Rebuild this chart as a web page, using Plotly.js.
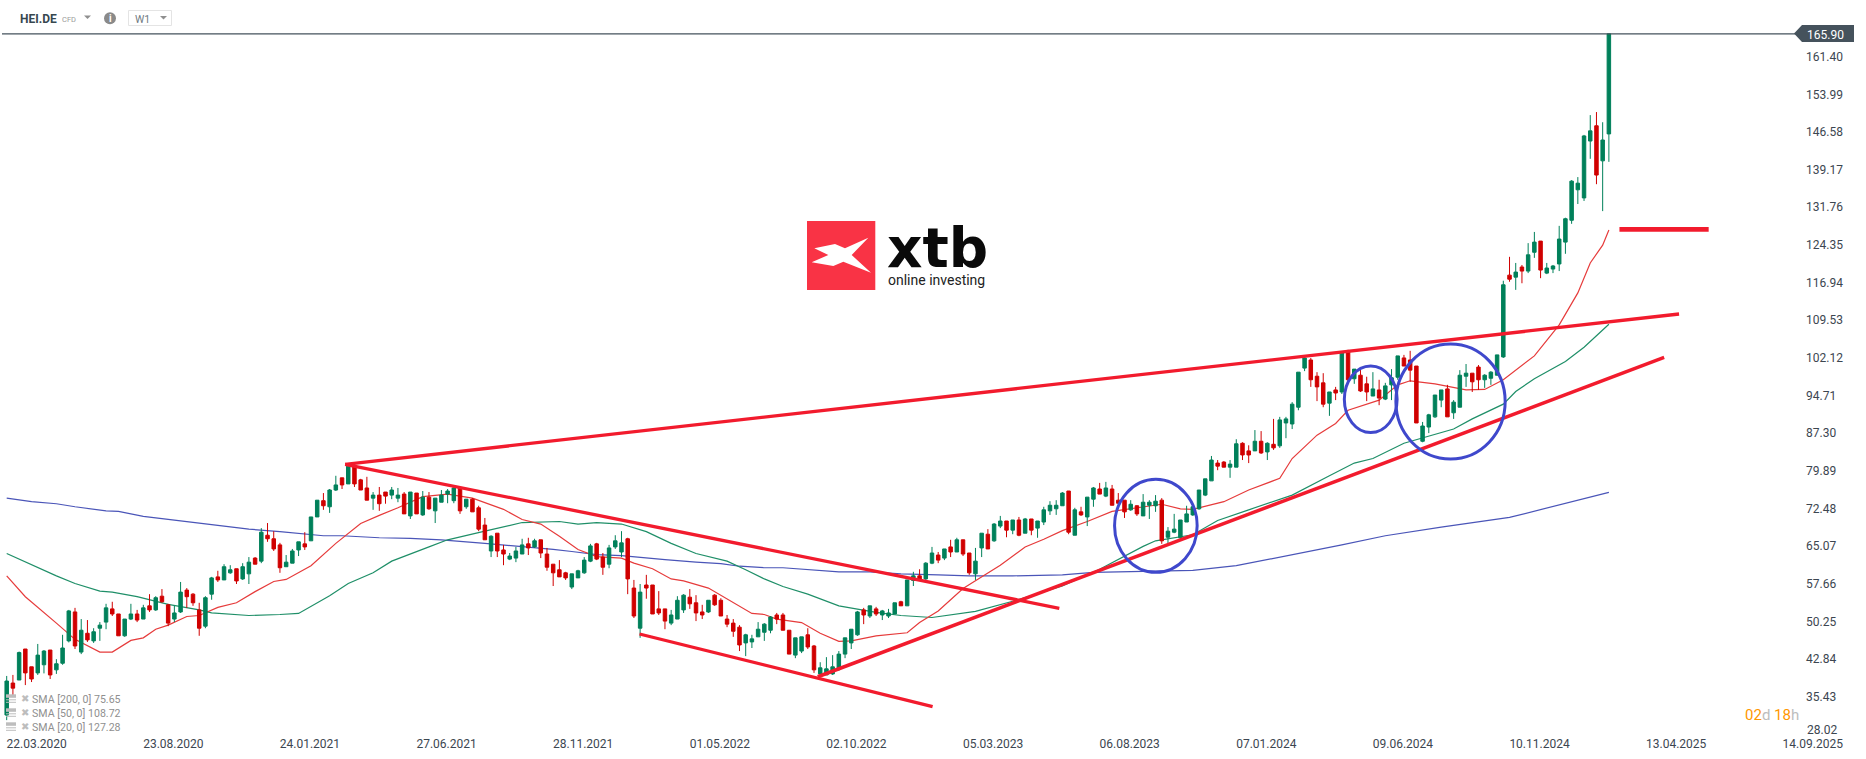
<!DOCTYPE html>
<html><head><meta charset="utf-8">
<script src="https://cdn.plot.ly/plotly-3.0.1.min.js"></script>
<style>html,body{margin:0;padding:0;background:#fff}#c{width:1866px;height:759px}</style>
</head><body><div id="c"></div>
<script>
const symbolName = "HEI.DE";
const firstWeek = "2020-03-22";
const opens = [31.8,38.1,38.7,44.8,41.3,40.1,41.7,44.6,40.7,42.0,
46.4,52.1,44.2,47.9,46.4,48.9,50.1,52.7,51.7,47.4,
50.7,51.7,50.7,53.3,52.5,55.2,53.5,50.7,52.1,56.4,
55.6,52.5,49.3,55.6,59.0,58.4,59.8,60.6,58.6,59.6,
62.7,62.1,67.2,66.5,65.3,61.0,61.7,64.3,65.5,66.1,
70.8,74.0,72.8,76.1,78.5,77.3,80.8,78.1,76.5,74.5,
75.1,75.7,75.1,74.5,75.3,71.0,75.5,71.2,74.7,72.0,
73.7,75.3,74.0,76.5,72.8,74.3,72.6,69.2,64.1,67.6,
64.3,62.5,62.7,63.5,65.5,64.9,66.3,63.5,61.5,60.4,
59.8,57.0,58.8,59.8,62.1,65.5,62.9,61.5,64.9,63.9,
66.5,56.8,48.9,57.4,57.4,52.7,52.7,49.9,50.7,52.5,
55.0,53.9,52.1,52.1,55.4,54.4,50.7,49.9,49.1,46.0,
46.2,47.2,48.1,48.5,51.5,51.5,48.5,43.6,44.4,47.6,
45.4,39.9,39.7,39.9,41.1,43.8,46.0,47.6,52.5,51.3,
52.7,51.5,51.3,51.7,54.1,53.3,58.3,59.2,58.6,61.7,
63.3,62.7,64.9,63.9,66.3,63.7,59.6,64.7,67.4,66.1,
69.0,70.0,68.2,70.2,67.6,70.4,68.6,69.8,72.0,72.4,
73.0,75.9,67.2,71.8,70.8,74.3,76.3,74.9,76.3,74.1,
74.1,72.2,73.0,71.0,73.1,73.0,74.1,66.8,67.8,66.7,
69.8,71.2,72.4,75.1,77.9,81.4,81.6,80.6,80.6,85.3,
83.8,83.8,85.7,83.6,85.1,84.8,89.3,89.1,92.4,100.1,
101.7,98.5,97.2,93.2,95.8,95.4,103.3,98.0,98.7,97.0,
94.6,95.8,94.0,96.8,98.3,102.1,101.7,100.5,85.7,88.5,
90.5,93.8,96.0,91.3,92.4,98.5,99.1,100.3,97.8,98.1,
98.7,102.3,118.4,118.0,120.0,119.2,122.9,125.1,118.8,119.6,
120.6,124.9,129.2,135.2,133.6,144.8,147.8,140.9,146.2];
const closes = [38.5,37.1,44.1,40.1,38.9,43.6,44.4,39.7,41.9,45.0,
52.3,45.4,48.5,46.6,48.2,49.5,52.9,51.7,47.4,50.7,
51.7,50.5,52.9,52.5,54.9,54.1,49.9,51.9,56.0,55.1,
53.9,48.9,54.9,58.8,58.4,61.0,60.4,58.2,61.0,61.9,
61.5,67.8,66.5,64.5,60.8,61.9,64.1,65.9,64.9,70.8,
74.1,73.0,76.1,77.1,77.1,80.8,77.3,76.1,74.1,75.1,
73.4,74.9,76.1,75.1,71.4,75.7,71.4,74.7,72.4,74.5,
75.1,75.9,76.5,72.0,74.3,71.8,68.4,66.3,67.0,64.1,
63.5,63.1,64.1,65.3,64.7,66.1,63.7,60.9,59.8,59.0,
58.8,59.6,60.2,62.3,65.1,62.5,60.9,64.7,66.1,65.7,
58.6,51.3,56.0,56.8,51.7,51.9,50.3,51.5,54.4,55.4,
53.7,51.9,51.5,54.4,53.5,51.3,49.7,48.3,45.6,47.6,
46.8,48.7,49.7,51.1,50.7,48.5,43.8,47.0,47.2,45.2,
40.7,41.1,40.9,41.3,43.8,47.0,48.7,52.1,51.5,53.3,
51.7,52.3,51.9,53.9,53.3,58.4,59.2,58.4,61.7,63.7,
62.3,64.5,63.9,66.3,63.5,59.8,62.1,67.6,64.5,69.4,
70.0,68.2,70.2,67.2,70.4,68.2,70.0,72.2,73.1,73.1,
75.5,67.8,72.2,71.2,74.7,76.5,75.3,76.5,73.1,73.5,
71.8,73.3,71.4,73.7,73.7,73.9,66.1,68.0,68.4,70.2,
71.4,72.8,76.1,78.3,82.0,80.8,80.6,81.2,85.2,83.0,
83.0,85.7,83.4,85.3,84.4,89.9,90.1,93.0,99.3,102.1,
97.8,96.4,93.0,95.4,95.2,103.3,97.8,99.9,95.6,95.4,
96.0,94.2,96.6,98.2,102.5,100.5,99.7,89.3,88.7,90.9,
94.8,95.8,90.5,93.4,98.7,99.1,97.4,97.8,98.7,99.3,
102.7,116.5,117.6,119.0,119.2,122.4,124.9,119.4,119.8,120.2,
125.5,129.5,136.9,136.5,145.8,146.8,138.1,145.0,165.9];
const highs = [39.5,39.7,44.3,44.8,41.3,45.8,44.6,44.6,42.8,47.6,
52.5,52.9,50.7,50.5,48.9,50.1,53.7,54.1,51.7,50.7,
53.7,52.5,53.5,55.6,55.2,56.6,53.7,53.3,58.0,56.8,
55.8,53.9,55.2,59.0,60.2,61.5,61.3,60.6,61.7,62.9,
62.9,68.6,69.6,68.0,65.7,63.3,64.5,65.9,67.8,70.8,
74.1,75.5,76.3,78.9,78.5,81.2,81.2,78.3,78.7,75.7,
76.7,75.7,76.7,76.5,75.7,75.7,75.5,75.9,75.7,74.5,
76.1,76.3,76.9,76.7,74.3,74.5,73.0,70.6,67.2,67.6,
65.3,63.7,64.9,66.5,66.7,66.5,66.3,64.7,61.5,62.3,
60.0,59.6,60.4,62.9,65.5,65.7,63.7,65.3,67.2,68.0,
66.7,58.4,57.6,59.4,57.4,56.2,52.7,52.5,55.2,55.6,
56.6,55.4,53.5,54.4,55.6,54.8,51.5,50.7,49.5,47.8,
47.6,50.1,49.9,51.3,51.9,51.9,48.5,47.0,47.2,48.9,
45.6,42.2,43.2,43.6,44.4,47.0,48.7,52.3,52.9,53.3,
53.1,52.5,52.7,53.9,54.3,58.4,60.0,60.5,61.9,64.9,
63.9,64.5,66.3,66.7,66.3,63.7,64.7,67.6,68.4,69.6,
71.0,70.0,70.2,70.8,70.6,70.4,70.0,72.8,73.9,74.1,
75.7,75.9,72.6,72.8,74.7,76.7,77.5,77.7,77.1,75.5,
74.1,74.1,73.1,75.3,74.1,75.1,74.5,68.8,71.4,70.2,
73.0,72.8,76.1,78.3,82.8,82.0,81.8,82.0,86.1,85.5,
84.9,87.9,87.7,85.5,90.1,90.5,90.5,93.4,99.3,102.5,
102.1,99.3,99.1,95.4,96.4,103.3,103.7,99.9,99.9,98.4,
99.3,97.8,97.2,99.9,102.5,102.7,103.5,100.5,89.5,91.1,
94.8,95.8,96.8,93.8,99.7,100.9,99.1,100.7,98.9,99.5,
102.7,117.3,122.0,120.8,120.4,124.7,126.9,125.1,120.8,120.4,
128.1,129.7,137.1,137.7,146.0,149.9,150.5,148.5,165.9];
const lows = [30.8,35.6,38.7,37.7,38.3,39.7,40.0,38.9,39.9,41.7,
46.1,44.8,43.8,46.2,46.0,46.4,48.7,51.3,47.4,47.2,
50.5,50.1,50.7,52.1,52.3,53.9,49.3,50.1,51.9,52.9,
53.3,47.4,48.9,54.5,58.0,58.4,59.6,57.6,58.4,57.6,
61.5,61.7,65.9,64.1,59.8,61.0,61.7,63.1,64.3,66.1,
70.8,72.2,71.6,75.9,76.3,77.3,76.7,76.1,74.1,72.2,
72.0,73.4,74.3,73.7,71.4,70.4,71.4,71.0,72.2,69.6,
73.7,73.5,73.5,71.4,72.4,71.8,68.0,66.3,62.9,62.9,
61.3,62.3,61.9,63.5,63.3,64.7,62.7,60.2,57.2,59.0,
58.4,56.6,58.8,59.6,61.9,62.3,59.4,60.7,64.5,62.9,
55.6,50.9,47.0,54.7,51.7,51.5,48.7,49.5,50.7,51.9,
52.7,50.3,50.7,51.9,53.3,51.3,49.1,47.2,44.4,43.4,
45.0,47.2,46.4,47.9,49.7,48.5,43.8,43.0,44.0,44.8,
40.1,39.7,39.7,39.7,40.5,43.0,44.8,47.4,49.7,50.9,
51.3,50.5,50.9,51.7,53.3,53.3,57.2,58.4,58.4,61.5,
61.7,62.3,62.9,63.9,63.1,59.4,58.4,62.9,64.5,65.9,
68.6,66.8,67.4,67.0,67.6,67.2,66.7,69.2,71.2,71.2,
73.0,67.4,67.2,71.0,69.0,72.8,75.3,74.7,73.1,73.3,
70.6,72.0,71.0,71.0,70.4,71.8,65.5,65.5,67.6,66.4,
69.8,71.0,72.2,74.9,77.9,80.0,80.6,78.5,80.6,82.0,
81.4,83.8,83.2,82.0,84.0,84.4,86.3,88.1,91.8,99.5,
96.4,93.6,92.4,90.7,93.8,95.0,97.0,97.0,95.4,93.6,
94.6,92.8,93.8,93.8,97.8,100.5,97.4,89.3,85.5,87.3,
90.3,92.4,90.5,90.1,92.4,96.4,95.4,95.8,96.2,96.8,
98.7,102.1,117.1,115.5,116.8,118.8,121.8,117.8,118.6,118.8,
119.2,122.6,128.5,132.4,133.0,141.3,136.3,131.0,140.7];

const sma200Weeks = [0,4,8,11,16,18,22,29,34,39,44,48,51,54,60,65,70,77,83,88,91,95,99,103,106,111,115,118,122,125,129,134,139,144,150,155,162,170,175,185,191,198,207,215,222,231,242,251,258];
const sma200 = [74.5,73.8,73.4,72.8,72.0,71.9,70.9,69.9,69.1,68.4,67.9,67.4,67.1,67.1,66.7,66.6,66.3,65.6,65.0,64.4,64.0,63.4,63.2,62.7,62.4,61.9,61.6,61.1,60.8,60.8,60.4,60.0,60.0,59.6,59.4,59.2,59.2,59.4,59.9,60.2,60.3,61.2,63.3,65.3,67.1,68.8,70.7,73.5,75.65];
const sma50Weeks = [0,5,8,11,15,17,21,26,31,33,39,44,47,52,55,59,62,68,71,77,83,89,92,95,99,103,107,111,116,119,122,125,129,134,137,140,144,149,156,161,162,170,176,183,185,191,195,200,207,213,217,220,225,233,236,241,243,246,251,254,258];
const sma50 = [63.6,60.8,59.2,57.7,56.2,56.0,55.1,53.6,52.5,51.9,51.4,51.6,51.8,55.3,57.7,59.8,62.1,64.9,66.3,68.0,69.7,69.9,69.4,69.7,69.4,67.9,65.6,63.6,62.1,60.4,58.6,57.1,55.6,53.3,52.6,52.0,51.4,51.0,52.2,53.8,54.2,57.2,60.5,65.0,66.1,67.3,70.1,72.2,75.1,78.9,81.4,82.3,85.3,88.1,90.1,93.0,95.5,98.0,101.4,104.2,108.72];
const sma20Weeks = [0,3,8,11,15,17,20,22,24,26,29,31,34,37,40,43,45,49,53,55,57,60,63,67,71,75,80,83,86,89,92,95,99,101,104,107,109,113,116,120,122,124,128,131,134,136,140,145,147,150,154,160,164,167,170,174,178,183,186,189,191,196,200,205,207,211,214,216,221,224,226,230,235,238,241,246,250,253,255,257,258];
const sma20 = [59.2,55.1,49.9,46.7,44.2,44.2,46.5,47.0,48.7,49.5,51.2,51.4,53.0,53.9,56.1,58.1,58.5,61.2,65.6,67.6,69.5,71.1,72.6,74.8,75.3,74.5,72.3,70.3,69.4,67.0,64.4,63.0,62.7,61.7,60.6,58.6,58.2,56.8,54.7,51.8,51.6,50.7,50.0,47.9,46.3,46.4,47.4,48.0,50.0,52.3,56.7,61.3,64.9,66.4,68.1,69.9,71.9,72.7,73.3,72.4,72.3,73.8,76.1,78.4,82.3,86.9,89.2,91.8,93.8,96.8,97.6,97.0,95.8,95.9,97.8,102.5,108.6,114.9,120.8,124.3,127.28];

const trendWeeks = [[54.5,269.3],[54.5,169.5],[101.9,149.1],[130.6,266.9],[259.7,274.07]];
const trendPrices = [[81.16,110.75],[81.16,52.8],[47.76,33.45],[39.34,102.2],[127.42,127.42]];
const trendWidths = [3.3,3.3,3.3,3.5,4.8];
const circleWeeks = [[178.4,191.7],[215.4,223.9],[223.7,241.3]];
const circlePrices = [[59.9,78.2],[87.4,100.5],[82.2,104.84]];

const yTicks = [161.40,153.99,146.58,139.17,131.76,124.35,116.94,109.53,102.12,94.71,87.30,79.89,72.48,65.07,57.66,50.25,42.84,35.43];
const bottomTick = "28.02";
const lastPrice = 165.90;
const xTickLabels = ["22.03.2020","23.08.2020","24.01.2021","27.06.2021","28.11.2021","01.05.2022","02.10.2022","05.03.2023","06.08.2023","07.01.2024","09.06.2024","10.11.2024","13.04.2025","14.09.2025"];
const xTickWeeks = [0,22,44,66,88,110,132,154,176,198,220,242,264,286];
const legendTexts = ["SMA [200, 0] 75.65","SMA [50, 0] 108.72","SMA [20, 0] 127.28"];

const W = 1866, H = 759, plotW = 1800, plotH = 735;
const start = Date.UTC(2020,2,22), weekMs = 7*864e5;
const wk = k => new Date(start + k*weekMs).toISOString();
const pxPerWeek = 6.21, firstPx = 6.7, pxPerUnit = 5.08, topPrice = 172.56;
const fx = p => p/plotW, fy = p => 1-p/plotH;
const xRange = [wk(-firstPx/pxPerWeek), wk((plotW-firstPx)/pxPerWeek)];
const yRange = [topPrice-plotH/pxPerUnit, topPrice];
const dates = opens.map((_,i)=>wk(i));

const GREEN='#00805a', RED='#d00000', TREND='#f21b2d', BLUE='#3f48cc', TXT='#3c4650', TAG='#45525c';

const smaLine = (w,v,c,n)=>({type:'scatter',mode:'lines',x:w.map(wk),y:v,name:n,line:{color:c,width:1.2},xaxis:'x',yaxis:'y',hoverinfo:'skip',showlegend:false});
const traces = [
  smaLine(sma200Weeks,sma200,'#4a55b8','SMA 200'),
  smaLine(sma50Weeks,sma50,'#1f8f68','SMA 50'),
  smaLine(sma20Weeks,sma20,'#e63b3b','SMA 20'),
  {type:'candlestick',x:dates,open:opens,high:highs,low:lows,close:closes,name:symbolName,xaxis:'x2',yaxis:'y2',showlegend:false,whiskerwidth:0,
   increasing:{line:{color:GREEN,width:1},fillcolor:GREEN},decreasing:{line:{color:RED,width:1},fillcolor:RED}}
];

const shapes = [];
const ann = [];
shapes.push({type:'line',xref:'paper',yref:'y',x0:fx(2),x1:fx(1796),y0:lastPrice,y1:lastPrice,line:{color:TAG,width:1.3},layer:'above'});
const poly = (pts,fill,lw,lc)=>({type:'path',xref:'paper',yref:'paper',path:'M'+pts.map(p=>fx(p[0]).toFixed(5)+' '+fy(p[1]).toFixed(5)).join(' L')+' Z',fillcolor:fill,line:{width:lw||0,color:lc||fill},layer:'above'});
shapes.push(poly([[1794,33.5],[1802,25],[1854,25],[1854,42],[1802,42]],TAG));
const label=(x,y,text,o={})=>ann.push(Object.assign({xref:'paper',yref:'paper',x:fx(x),y:fy(y),text,showarrow:false,xanchor:'left',yanchor:'middle',borderpad:0,font:{family:'Roboto',size:12,color:TXT}},o));
label(1806,35,lastPrice.toFixed(2),{font:{family:'Roboto',size:12,color:'#ffffff'}});
label(1806,729.5,bottomTick);
trendWeeks.forEach((w,i)=>shapes.push({type:'line',xref:'x',yref:'y',x0:wk(w[0]),x1:wk(w[1]),y0:trendPrices[i][0],y1:trendPrices[i][1],line:{color:TREND,width:trendWidths[i]},layer:'above'}));
circleWeeks.forEach((w,i)=>shapes.push({type:'circle',xref:'x',yref:'y',x0:wk(w[0]),x1:wk(w[1]),y0:circlePrices[i][0],y1:circlePrices[i][1],line:{color:BLUE,width:3},layer:'above'}));
label(19,18.5,symbolName,{font:{family:'Roboto',size:12,color:'#37474f',weight:700}});
label(61,19,'CFD',{font:{family:'Roboto',size:7.5,color:'#9a9a9a'}});
shapes.push(poly([[84,15.5],[91,15.5],[87.5,19]],'#8f8f8f'));
shapes.push({type:'circle',xref:'paper',yref:'paper',x0:fx(104),x1:fx(116),y0:fy(12.3),y1:fy(24.3),fillcolor:'#8a8a8a',line:{width:0},layer:'above'});
label(110,18.5,'i',{xanchor:'center',font:{family:'Roboto',size:10,color:'#ffffff',weight:700}});
shapes.push({type:'rect',xref:'paper',yref:'paper',x0:fx(128.5),x1:fx(171.5),y0:fy(10.5),y1:fy(25.5),fillcolor:'#ffffff',line:{color:'#e4e4e4',width:1},layer:'above'});
label(134,19.5,'W1',{font:{family:'Roboto',size:10.5,color:'#6f7a82'}});
shapes.push(poly([[160,16],[167,16],[163.5,19.5]],'#8f8f8f'));
shapes.push({type:'rect',xref:'paper',yref:'paper',x0:fx(807),x1:fx(875.3),y0:fy(221),y1:fy(290),fillcolor:'#f93345',line:{width:0},layer:'above'});
shapes.push(poly([[103,145],[165,132],[195,145],[265,113],[215,165],[273,218],[190,185],[160,198],[95,187],[145,165]].map(p=>[780+p[0]/3,200+p[1]/3]),'#ffffff'));
label(886,248,'xtb',{font:{family:'DejaVu Sans',size:55,color:'#0a0a0a',weight:700}});
label(886.5,280,'online investing',{font:{family:'Roboto',size:14,color:'#222222'}});
legendTexts.forEach((t,i)=>{
  const c=[699.3,713.3,727.3][i];
  label(31,c,t,{font:{family:'Roboto',size:10.6,color:'#8f8f8f'}});
  label(19.5,c-1,'✖',{font:{family:'DejaVu Sans',size:10,color:'#bdbdbd'}});
  shapes.push({type:'rect',xref:'paper',yref:'paper',x0:fx(6),x1:fx(16),y0:fy(c-5),y1:fy(c-1.5),fillcolor:'#bdbdbd',line:{width:0},layer:'above'});
  shapes.push({type:'rect',xref:'paper',yref:'paper',x0:fx(6),x1:fx(16),y0:fy(c),y1:fy(c+1),fillcolor:'#bdbdbd',line:{width:0},layer:'above'});
  shapes.push({type:'rect',xref:'paper',yref:'paper',x0:fx(6),x1:fx(16),y0:fy(c+2.5),y1:fy(c+3.5),fillcolor:'#bdbdbd',line:{width:0},layer:'above'});
});
label(1744,714.5,'<span style="color:#ff9800">02</span><span style="color:#bdbdbd">d</span> <span style="color:#ff9800">18</span><span style="color:#bdbdbd">h</span>',{font:{family:'Roboto',size:15,color:'#ff9800'}});

const layout = {
  width:W,height:H,margin:{l:0,r:W-plotW,t:0,b:H-plotH,pad:0},paper_bgcolor:'#fff',plot_bgcolor:'#fff',showlegend:false,boxgap:0.2,
  xaxis:{type:'date',range:xRange,showgrid:false,zeroline:false,showline:false,ticks:'',tickmode:'array',tickvals:xTickWeeks.map(wk),ticktext:xTickLabels,ticklabelshift:30,ticklabeloverflow:'allow',tickfont:{family:'Roboto',size:12,color:TXT},rangeslider:{visible:false},fixedrange:true},
  xaxis2:{type:'date',range:xRange,overlaying:'x',visible:false,rangeslider:{visible:false},fixedrange:true,anchor:'y2'},
  yaxis:{range:yRange,side:'right',showgrid:false,zeroline:false,showline:false,ticks:'',tickmode:'array',tickvals:yTicks,ticktext:yTicks.map(v=>v.toFixed(2)),ticklabelstandoff:5,tickfont:{family:'Roboto',size:12,color:TXT},fixedrange:true},
  yaxis2:{range:yRange,overlaying:'y',side:'right',visible:false,fixedrange:true,anchor:'x2'},
  shapes,annotations:ann
};
Plotly.newPlot('c',traces,layout,{displayModeBar:false,staticPlot:true});
</script></body></html>
